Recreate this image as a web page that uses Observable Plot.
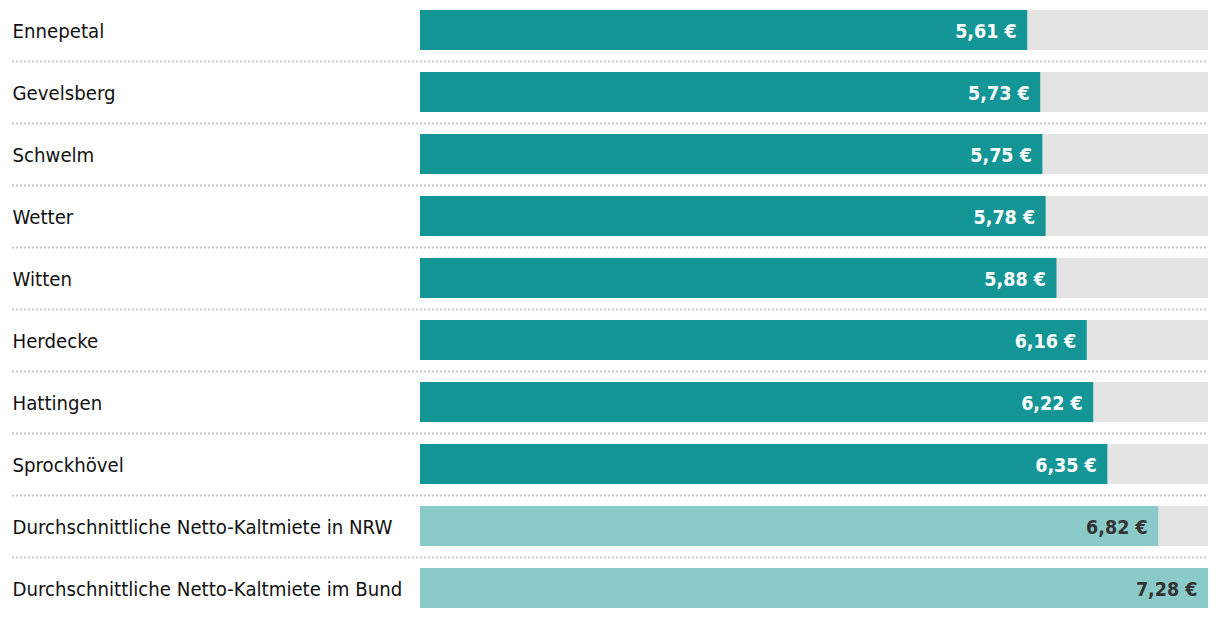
<!DOCTYPE html>
<html>
<head>
<meta charset="utf-8">
<script src="https://cdn.jsdelivr.net/npm/d3@7"></script>
<script src="https://cdn.jsdelivr.net/npm/@observablehq/plot@0.6"></script>
<style>
  html, body { margin: 0; padding: 0; background: #fff; }
  #chart svg { display: block; }
</style>
</head>
<body>
<div id="chart"></div>
<script>
const cities = ["Ennepetal", "Gevelsberg", "Schwelm", "Wetter", "Witten", "Herdecke", "Hattingen", "Sprockhövel", "Durchschnittliche Netto-Kaltmiete in NRW", "Durchschnittliche Netto-Kaltmiete im Bund"];
const rents = [5.61, 5.73, 5.75, 5.78, 5.88, 6.16, 6.22, 6.35, 6.82, 7.28];
const kinds = ["city", "city", "city", "city", "city", "city", "city", "city", "avg", "avg"];
const maxRent = 7.28;

const data = cities.map((c, i) => ({ name: c, value: rents[i], kind: kinds[i] }));
const fmt = v => v.toFixed(2).replace(".", ",") + " €";
const font = "'DejaVu Sans Condensed', 'Roboto', sans-serif";

const chart = Plot.plot({
  width: 1220,
  height: 618,
  marginLeft: 12,
  marginRight: 12,
  marginTop: 0,
  marginBottom: 0,
  style: { fontFamily: font, background: "#fff" },
  x: { domain: [0, maxRent], range: [420, 1208], axis: null },
  y: { domain: cities, range: [-1, 619], padding: 0, axis: null },
  marks: [
    Plot.ruleY(data.slice(0, data.length - 1), { y: "name", dy: 31, stroke: "#c8c8c8", strokeWidth: 2, strokeDasharray: "2,2" }),
    Plot.barX(data, { y: "name", x1: 0, x2: () => maxRent, fill: "#e4e4e4", insetTop: 11, insetBottom: 11 }),
    Plot.barX(data, { y: "name", x: "value", fill: d => d.kind === "city" ? "#149696" : "#8acbca", insetTop: 11, insetBottom: 11 }),
    Plot.text(data, { y: "name", frameAnchor: "left", text: "name", textAnchor: "start", fontSize: 20.2, fill: "#111", dy: 1 }),
    Plot.text(data, { y: "name", x: "value", text: d => fmt(d.value), textAnchor: "end", dx: -11, dy: 1, fontSize: 19.5, fontWeight: "bold", fill: d => d.kind === "city" ? "#ffffff" : "#333333" })
  ]
});
document.getElementById("chart").appendChild(chart);
</script>
</body>
</html>
